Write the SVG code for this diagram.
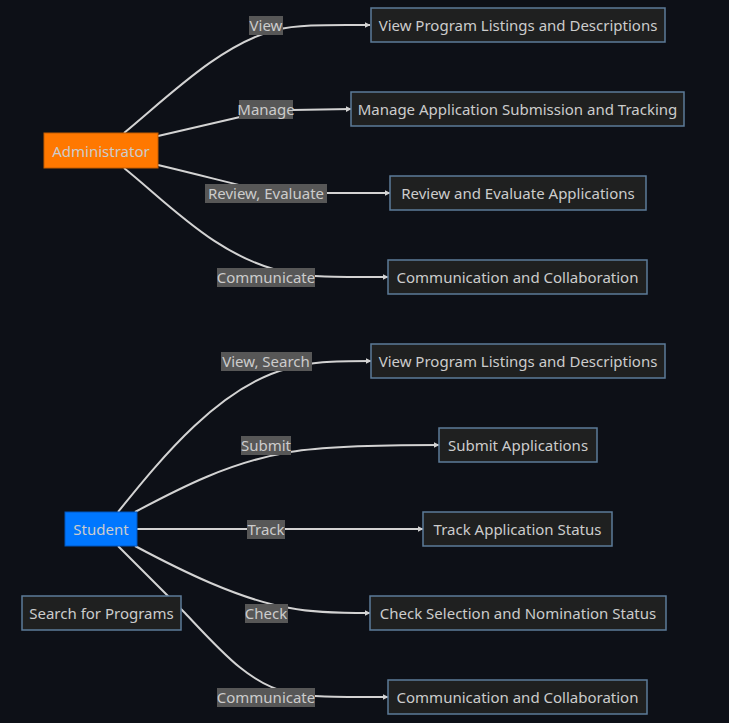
<svg xmlns="http://www.w3.org/2000/svg" width="729" height="723" viewBox="0 0 729 723">
<defs>
<marker id="arr" viewBox="0 0 10 10" refX="9" refY="5" markerWidth="6" markerHeight="6" orient="auto" markerUnits="userSpaceOnUse">
<path d="M0,0 L10,5 L0,10 z" fill="#d3d3d3"/>
</marker>
<style>
text{font-family:"Noto Sans","Liberation Sans",sans-serif;font-size:15px;fill:#cccccc;text-anchor:middle;dominant-baseline:central}
.n rect{fill:#1f2020;stroke:#5c7b99;stroke-width:1.5}
.e path{fill:none;stroke:#d3d3d3;stroke-width:2;marker-end:url(#arr)}
.lbl rect{fill:#575757}
</style>
</defs>
<rect width="729" height="723" fill="#0d1017"/>
<g id="connectors" class="e">
<path d="M124,133 C170,95 220,45 275,30 C300,24 330,25 370,25"/>
<path d="M158,136 L240,117 C255,113 265,110 292,110 L351,109"/>
<path d="M158,165 C200,175 230,183 260,190 C280,193 300,193 326,193 L390,193"/>
<path d="M124,168 C170,205 220,260 290,273 C310,277 330,277 388,277"/>
<path d="M118,512 C160,460 220,385 290,368 C310,362 330,361 371,361"/>
<path d="M135,512 C180,488 230,462 290,452 C320,447 370,445 439,445"/>
<path d="M137,529 L423,529"/>
<path d="M135,546 C180,570 240,600 290,608 C310,612 330,613 370,613"/>
<path d="M118,546 L185,613 C220,650 250,685 290,693 C310,697 330,697 388,697"/>
</g>
<g id="labels" class="lbl">
<rect x="249" y="16" width="34" height="19"/><text x="266" y="25">View</text>
<rect x="239" y="100" width="54" height="19"/><text x="266" y="109">Manage</text>
<rect x="205" y="184" width="122" height="19"/><text x="266" y="193">Review, Evaluate</text>
<rect x="217" y="268" width="98" height="19"/><text x="266" y="277">Communicate</text>
<rect x="221" y="352" width="91" height="19"/><text x="266" y="361">View, Search</text>
<rect x="241" y="436" width="50" height="19"/><text x="266" y="445">Submit</text>
<rect x="247" y="520" width="38" height="19"/><text x="266" y="529">Track</text>
<rect x="245" y="604" width="43" height="19"/><text x="266" y="613">Check</text>
<rect x="217" y="688" width="98" height="19"/><text x="266" y="697">Communicate</text>
</g>
<g id="admin"><rect x="44" y="133" width="114" height="35" fill="#ff7800" stroke="#c45c00" stroke-width="1"/><text x="101" y="151">Administrator</text></g>
<g id="a_view" class="n"><rect x="371" y="8" width="294" height="34"/><text x="518" y="25">View Program Listings and Descriptions</text></g>
<g id="a_manage" class="n"><rect x="351" y="92" width="333" height="34"/><text x="517.5" y="109">Manage Application Submission and Tracking</text></g>
<g id="a_review" class="n"><rect x="390" y="176" width="256" height="34"/><text x="518" y="193">Review and Evaluate Applications</text></g>
<g id="a_comm" class="n"><rect x="388" y="260" width="259" height="34"/><text x="517.5" y="277">Communication and Collaboration</text></g>
<g id="student"><rect x="65" y="512" width="72" height="34" fill="#0077ff" stroke="#0057c0" stroke-width="1"/><text x="101" y="529">Student</text></g>
<g id="search" class="n"><rect x="22" y="596" width="159" height="34"/><text x="101.5" y="613">Search for Programs</text></g>
<g id="s_view" class="n"><rect x="371" y="344" width="294" height="34"/><text x="518" y="361">View Program Listings and Descriptions</text></g>
<g id="s_submit" class="n"><rect x="439" y="428" width="158" height="34"/><text x="518" y="445">Submit Applications</text></g>
<g id="s_track" class="n"><rect x="423" y="512" width="189" height="34"/><text x="517.5" y="529">Track Application Status</text></g>
<g id="s_check" class="n"><rect x="370" y="596" width="296" height="34"/><text x="518" y="613">Check Selection and Nomination Status</text></g>
<g id="s_comm" class="n"><rect x="388" y="680" width="259" height="34"/><text x="517.5" y="697">Communication and Collaboration</text></g>
</svg>
